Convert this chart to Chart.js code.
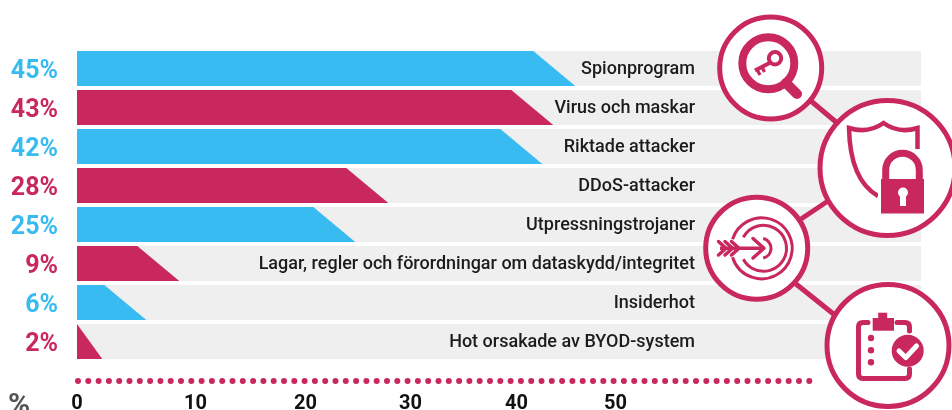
<!DOCTYPE html>
<html lang="sv">
<head>
<meta charset="utf-8">
<style>html,body{margin:0;padding:0;background:#fff;overflow:hidden}canvas{display:block}</style>
<script src="https://cdn.jsdelivr.net/npm/chart.js@4/dist/chart.umd.js"></script>
</head>
<body>
<canvas id="c" width="952" height="410"></canvas>
<script>
const categories = ["Spionprogram","Virus och maskar","Riktade attacker","DDoS-attacker","Utpressningstrojaner","Lagar, regler och förordningar om dataskydd/integritet","Insiderhot","Hot orsakade av BYOD-system"];
const values = [45,43,42,28,25,9,6,2];
const plate = [77,77,77,77,77,77,77,77];
const axisTicks = [0,10,20,30,40,50];
const PINK = "#C9285F", BLUE = "#38BBF0", GRAY = "#EFEFEF";
const barColors = [BLUE,PINK,BLUE,PINK,BLUE,PINK,BLUE,PINK];
// the reference's tick labels are unevenly spaced along the plate
const tickFractions = [0,0.1404,0.2707,0.3951,0.5207,0.6380];

const Linear = Chart.registry.getScale("linear");
class TickAxis extends Linear {
  getPixelForTick(i){ return this.left + (this.right - this.left) * tickFractions[i]; }
}
TickAxis.id = "tickaxis";
TickAxis.defaults = Linear.defaults;
Chart.register(TickAxis);

function line(c,pts,w,color,cap){
  c.beginPath(); pts.forEach((p,i)=>i?c.lineTo(p[0],p[1]):c.moveTo(p[0],p[1]));
  c.lineWidth=w; c.strokeStyle=color||PINK; c.lineCap=cap||"butt"; c.lineJoin="round"; c.stroke();
}
function ring(c,x,y,r,w,a0,a1){
  c.beginPath(); c.arc(x,y,r,a0===undefined?0:a0,a1===undefined?Math.PI*2:a1);
  c.lineWidth=w; c.strokeStyle=PINK; c.lineCap="butt"; c.stroke();
}
function badge(c,x,y,r){
  c.beginPath(); c.arc(x,y,r-2.5,0,Math.PI*2); c.fillStyle="#fff"; c.fill();
  c.lineWidth=5; c.strokeStyle=PINK; c.stroke();
}
function dot(c,x,y,r,col){ c.beginPath(); c.arc(x,y,r,0,Math.PI*2); c.fillStyle=col||PINK; c.fill(); }

function drawIcons(c){
  line(c,[[811,101],[836,122]],5);
  line(c,[[828,201],[801,219]],5);
  line(c,[[796,284],[836,316]],5);

  // key in a magnifier
  badge(c,770.7,68,53.5);
  ring(c,768.3,63.3,26,8);
  line(c,[[786,83],[797,94]],10,PINK,"round");
  ring(c,775,58.3,6.2,4);
  line(c,[[770.5,62.5],[755,70.5]],4);
  line(c,[[757,69.5],[760,75]],3.2); line(c,[[762,67],[764.5,72]],3.2);

  // shield and lock
  badge(c,887.5,168,70);
  c.beginPath(); c.moveTo(878,196); c.quadraticCurveTo(850,180,849,128);
  c.quadraticCurveTo(868,134,883.5,123); c.quadraticCurveTo(899,134,917.5,128); c.lineTo(917.5,149);
  c.lineWidth=4.5; c.strokeStyle=PINK; c.lineCap="butt"; c.lineJoin="miter"; c.stroke();
  c.fillStyle="#fff"; c.fillRect(878,170,48,30);
  c.beginPath(); c.moveTo(885.7,180); c.lineTo(885.7,170); c.arc(902.5,170,16.8,Math.PI,0); c.lineTo(919.3,180);
  c.lineWidth=7; c.strokeStyle=PINK; c.stroke();
  c.fillStyle=PINK; c.fillRect(881,179,43,34.5);
  dot(c,903,192.5,5,"#fff"); c.fillStyle="#fff"; c.fillRect(900,193,6,13);

  // arrow in a target
  badge(c,756.7,248.2,53.5);
  ring(c,761.7,248.3,30.5,3,-Math.PI+0.3,Math.PI-0.3);
  ring(c,763.5,248.3,23,3,-Math.PI+0.5,Math.PI-0.5);
  ring(c,761,248.3,10,3,-1.35,1.35);
  line(c,[[720,248.3],[762,248.3]],3.5);
  line(c,[[753,238.5],[764,248.3],[753,258]],3.5,PINK,"round");
  line(c,[[718.5,241.5],[726,248.3],[718.5,255]],3.5,PINK,"round");
  line(c,[[725,241.5],[732.5,248.3],[725,255]],3.5,PINK,"round");
  line(c,[[731.5,241.5],[739,248.3],[731.5,255]],3.5,PINK,"round");

  // clipboard
  badge(c,888,345.5,63.5);
  c.beginPath(); c.moveTo(868,322.5); c.lineTo(863,322.5); c.quadraticCurveTo(858.5,322.5,858.5,327);
  c.lineTo(858.5,374); c.quadraticCurveTo(858.5,378.5,863,378.5); c.lineTo(905,378.5);
  c.quadraticCurveTo(909.5,378.5,909.5,374); c.lineTo(909.5,369);
  c.lineWidth=5; c.strokeStyle=PINK; c.lineJoin="round"; c.stroke();
  c.beginPath(); c.moveTo(897,322.5); c.lineTo(905,322.5); c.quadraticCurveTo(909.5,322.5,909.5,327); c.lineTo(909.5,331); c.stroke();
  c.fillStyle=PINK; c.fillRect(872.7,318,21.3,12.7); c.fillRect(878.2,312.7,9,6);
  dot(c,871,338,3.2); dot(c,871,350.3,3.2); dot(c,871,362.3,3.2);
  dot(c,907.7,350.7,16);
  line(c,[[899,351],[905.8,357.5],[916.5,346]],5,"#fff","round");
}

const overlay = {
  id:"overlay",
  afterDatasetsDraw(chart){
    const c = chart.ctx, a = chart.chartArea, bars = chart.getDatasetMeta(1).data;
    c.save();
    // slanted bar ends
    c.beginPath(); c.rect(a.left,a.top,a.right-a.left,a.bottom-a.top); c.clip();
    bars.forEach(b=>{
      const t = Math.round(b.y-b.height/2), u = Math.round(b.y+b.height/2), s = Math.min(42,b.x-b.base);
      c.beginPath(); c.moveTo(b.x-s,t); c.lineTo(b.x+1,t); c.lineTo(b.x+1,u); c.lineTo(b.x,u); c.closePath();
      c.fillStyle=GRAY; c.fill();
    });
    c.restore(); c.save();
    // row names
    c.font="500 18px Roboto"; c.fillStyle="#1c1c1c"; c.textAlign="right"; c.textBaseline="middle";
    categories.forEach((n,i)=>c.fillText(n,695,chart.scales.y.getPixelForValue(i)+1));
    // dotted rule
    c.setLineDash([0,10.3]); c.lineCap="round"; c.lineWidth=6; c.strokeStyle=PINK;
    c.beginPath(); c.moveTo(78,381); c.lineTo(816,381); c.stroke(); c.setLineDash([]);
    // unit
    c.font="700 30px Roboto"; c.fillStyle="#555"; c.textAlign="left"; c.textBaseline="alphabetic";
    c.fillText("%",8,414);
    drawIcons(c);
    c.restore();
  }
};

new Chart(document.getElementById("c"),{
  type:"bar",
  data:{labels:categories,datasets:[
    {data:plate,backgroundColor:GRAY,base:-0.3,barPercentage:35/39,categoryPercentage:1,order:2,grouped:false},
    {data:values,backgroundColor:barColors,base:-0.3,barPercentage:35/39,categoryPercentage:1,order:1,grouped:false}
  ]},
  options:{
    indexAxis:"y",responsive:false,animation:false,
    layout:{padding:{top:49,right:31,left:0,bottom:0}},
    plugins:{legend:{display:false},tooltip:{enabled:false}},
    scales:{
      y:{type:"category",grid:{display:false},border:{display:false},
        afterFit(s){s.width=77;},
        ticks:{padding:11,labelOffset:3,font:{family:"Roboto",weight:"700",size:25},color:ctx=>barColors[ctx.index],
          callback:(v,i)=>values[i]+"%"}},
      x:{type:"linear",display:false,min:-0.3,max:76.43,position:"bottom"},
      xTicks:{type:"tickaxis",axis:"x",position:"bottom",min:0,max:50,
        afterBuildTicks(s){s.ticks=axisTicks.map(v=>({value:v}));},
        afterFit(s){s.height=49;},
        grid:{display:false},border:{display:false},
        ticks:{autoSkip:false,maxRotation:0,padding:23,font:{family:"Roboto",weight:"700",size:20},color:"#111"}}
    }
  },
  plugins:[overlay]
});
</script>
</body>
</html>
